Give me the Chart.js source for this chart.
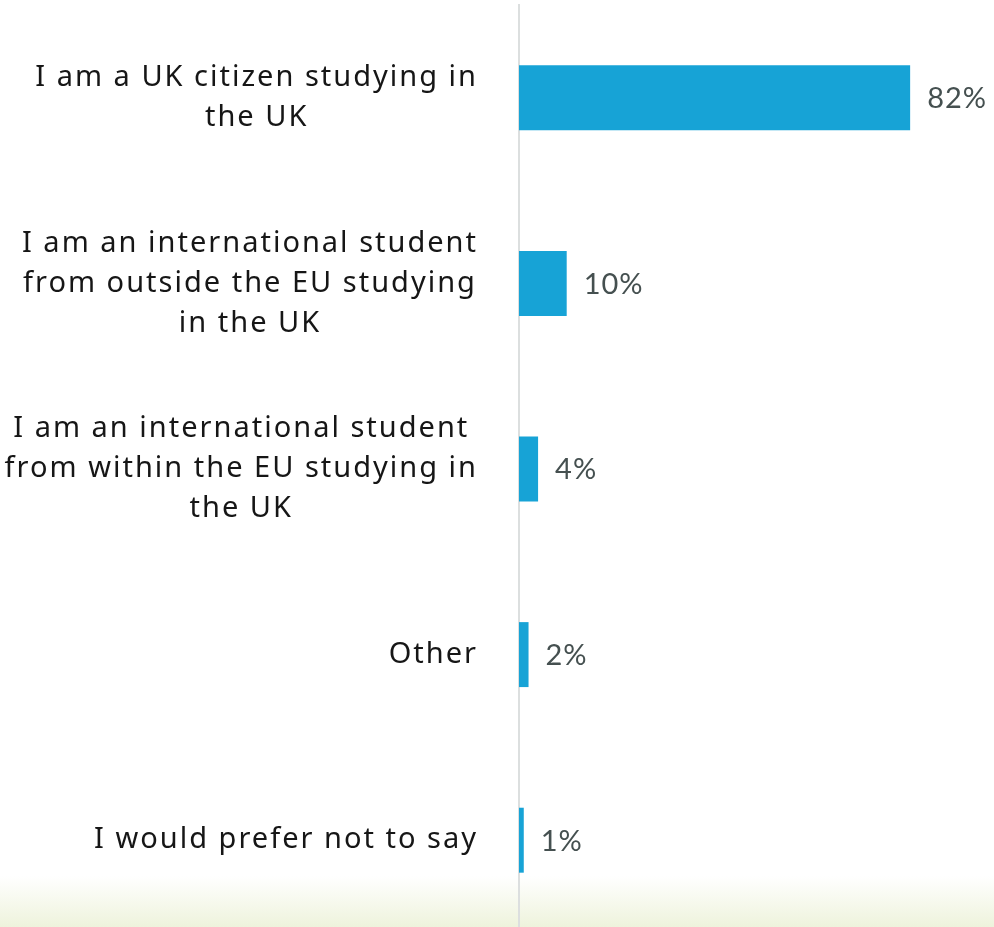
<!DOCTYPE html>
<html>
<head>
<meta charset="utf-8">
<script src="https://cdn.jsdelivr.net/npm/chart.js@4"></script>
<style>
  html, body { margin: 0; padding: 0; background: #fff; overflow: hidden; }
  #marco {
    position: relative; width: 994px; height: 927px; overflow: hidden;
    background: linear-gradient(to bottom, #ffffff 0px, #ffffff 876px, #eef3dc 927px);
  }
  #grafico { position: absolute; left: 0; top: 0; }
</style>
</head>
<body>
<div id="marco"><canvas id="grafico" width="1000" height="940"></canvas></div>
<script>
// ==================== DATOS ====================
const categorias = [
    ['I am a UK citizen studying in', 'the UK'],
    ['I am an international student', 'from outside the EU studying', 'in the UK'],
    ['I am an international student', 'from within the EU studying in', 'the UK'],
    ['Other'],
    ['I would prefer not to say']
];
const porcentajes = [82, 10, 4, 2, 1];

const colorBarra = '#17a3d6';
const fuenteEtiqueta = '29px "Noto Sans", sans-serif';
const fuenteValor = '29px Lato, sans-serif';

// Etiquetas de categoría: bloque alineado a la derecha, líneas centradas entre sí
const etiquetasCategoria = {
    id: 'etiquetasCategoria',
    afterDraw(chart) {
        const ctx = chart.ctx;
        const escalaY = chart.scales.y;
        const bordeDerecho = 478;
        const altoLinea = 40;
        ctx.save();
        ctx.font = fuenteEtiqueta;
        ctx.letterSpacing = '2px';
        ctx.fillStyle = '#161616';
        ctx.textAlign = 'center';
        ctx.textBaseline = 'middle';
        categorias.forEach((lineas, i) => {
            const yCentro = escalaY.getPixelForValue(i);
            const ancho = Math.max(...lineas.map(l => ctx.measureText(l).width));
            const xCentro = bordeDerecho - ancho / 2;
            const y0 = yCentro - (lineas.length - 1) * altoLinea / 2;
            lineas.forEach((l, j) => ctx.fillText(l, xCentro, y0 + j * altoLinea));
        });
        ctx.restore();
    }
};

// Valor al final de cada barra
const valoresBarra = {
    id: 'valoresBarra',
    afterDatasetsDraw(chart) {
        const ctx = chart.ctx;
        const meta = chart.getDatasetMeta(0);
        ctx.save();
        ctx.font = fuenteValor;
        ctx.letterSpacing = '1px';
        ctx.fillStyle = '#455050';
        ctx.textAlign = 'left';
        ctx.textBaseline = 'middle';
        meta.data.forEach((barra, i) => {
            ctx.fillText(porcentajes[i] + '%', barra.x + 17, barra.y + 1);
        });
        ctx.restore();
    }
};

new Chart(document.getElementById('grafico'), {
    type: 'bar',
    data: {
        labels: categorias,
        datasets: [{
            data: porcentajes,
            backgroundColor: colorBarra,
            borderWidth: 0,
            categoryPercentage: 1,
            barPercentage: 0.35
        }]
    },
    options: {
        indexAxis: 'y',
        responsive: false,
        animation: false,
        layout: { padding: { left: 519, right: 4, top: 5, bottom: 7 } },
        plugins: { legend: { display: false }, tooltip: { enabled: false } },
        scales: {
            x: { display: false, min: 0, max: 100 },
            y: {
                ticks: { display: false },
                grid: { display: false, drawTicks: false },
                border: { display: true, color: '#dcdfdf', width: 2 },
                afterFit: s => { s.width = 0; }
            }
        }
    },
    plugins: [etiquetasCategoria, valoresBarra]
});
</script>
</body>
</html>
